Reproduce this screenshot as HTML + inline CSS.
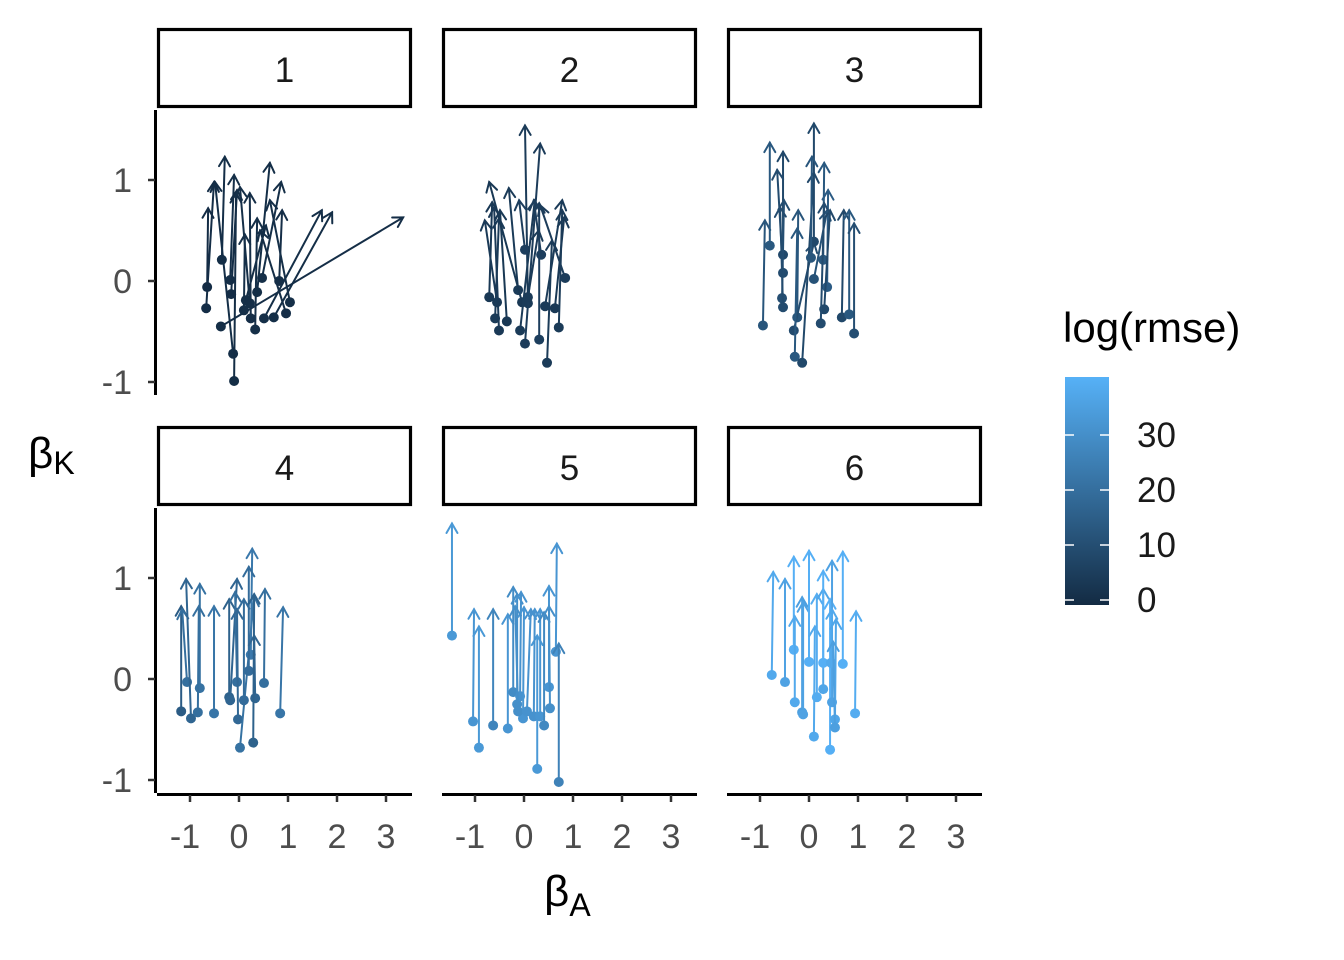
<!DOCTYPE html>
<html><head><meta charset="utf-8"><style>
html,body{margin:0;padding:0;background:#fff;}
svg{display:block;font-family:"Liberation Sans",sans-serif;}
</style></head><body>
<svg id="chart" width="1344" height="960" viewBox="0 0 1344 960" xmlns="http://www.w3.org/2000/svg">
<defs><linearGradient id="cbar" x1="0" y1="1" x2="0" y2="0"><stop offset="0" stop-color="#132B43"/><stop offset="1" stop-color="#56B1F7"/></linearGradient></defs>
<g id="panels"></g>
<text x="28" y="468" font-size="44" fill="#000">β<tspan font-size="32" dy="6">K</tspan></text>
<text x="544" y="906" font-size="44" fill="#000">β<tspan font-size="32" dy="10">A</tspan></text>
<g>
<text x="1063" y="342" font-size="42" fill="#000">log(rmse)</text>
<rect x="1065" y="377" width="44" height="228" fill="url(#cbar)"/>
<g id="cbticks"></g>
</g>
</svg>
<script>
const starts1X=[-0.65,-0.67,-0.35,-0.18,-0.16,-0.37,-0.12,-0.10,0.10,0.24,0.33,0.37,0.47,0.82,0.51,0.71,0.96,1.04,0.22,0.14];
const starts1Y=[-0.06,-0.27,0.21,0.01,-0.13,-0.45,-0.72,-0.99,-0.29,-0.37,-0.48,-0.11,0.03,0,-0.37,-0.36,-0.32,-0.21,-0.22,-0.19];
const ends1X=[-0.63,-0.51,-0.29,-0.10,-0.04,3.35,-0.49,-0.06,0.12,0.22,0.37,0.63,0.86,0.88,1.69,1.90,0.43,0.63,0.02,0.55];
const ends1Y=[0.72,0.98,1.23,1.05,0.90,0.63,0.98,0.87,0.46,0.87,0.62,1.17,0.98,0.70,0.70,0.68,0.50,0.80,0.93,0.55];
const rmse1=[-0.5,-0.3,0,0.2,-0.2,0.1,0,-0.4,0.3,0.1,0.2,0,0.3,0.1,0.2,0,0.1,0.3,0.2,0];

const starts2X=[-0.71,-0.55,-0.59,-0.35,-0.51,-0.12,-0.04,0.08,0.02,-0.08,0.02,0.31,0.35,0.47,0.43,0.63,0.71,0.84,0.08];
const starts2Y=[-0.16,-0.21,-0.37,-0.40,-0.49,-0.09,-0.21,-0.22,0.31,-0.49,-0.62,-0.58,0.26,-0.81,-0.25,-0.27,-0.46,0.03,-0.16];
const ends2X=[-0.65,-0.80,-0.51,-0.49,-0.61,-0.31,-0.71,0.02,-0.10,0.22,0.33,0.31,0.20,0.57,0.78,0.82,0.78,0.33,0.30];
const ends2Y=[0.78,0.60,0.62,0.70,0.73,0.92,0.98,1.54,0.80,0.80,1.36,0.77,0.80,0.40,0.80,0.63,0.70,0.75,0.50];
const rmse2=[3,3.5,4,3,3.5,4,3,4,5,4,4.5,5,5,4,4,3.5,4,4.5,4];

const starts3X=[-0.94,-0.80,-0.53,-0.53,-0.55,-0.53,-0.24,-0.31,-0.29,-0.14,0.10,0.04,0.10,0.29,0.37,0.31,0.24,0.67,0.82,0.92];
const starts3Y=[-0.44,0.35,0.26,0.08,-0.17,-0.26,-0.36,-0.49,-0.75,-0.81,0.39,0.23,0.02,0.21,-0.06,-0.28,-0.42,-0.36,-0.33,-0.52];
const ends3X=[-0.90,-0.80,-0.53,-0.65,-0.51,-0.59,-0.22,0.10,-0.24,0.10,0.10,0.06,0.37,0.31,0.39,0.43,0.31,0.71,0.82,0.92];
const ends3Y=[0.60,1.37,1.28,1.10,0.80,0.73,0.70,0.38,0.52,1.07,1.56,1.23,0.70,1.17,0.90,0.70,0.77,0.70,0.70,0.57];
const rmse3=[12,13,8,9,10,9,12,9,13,8,8,12,11,13,14,8,9,8,13,10];

const starts4X=[-1.18,-1.06,-0.98,-0.80,-0.84,-0.51,-0.20,-0.18,-0.04,-0.02,0.02,0.10,0.24,0.20,0.33,0.29,0.51,0.84];
const starts4Y=[-0.32,-0.03,-0.39,-0.09,-0.33,-0.34,-0.18,-0.21,-0.03,-0.40,-0.68,-0.21,0.24,0.08,-0.19,-0.63,-0.04,-0.34];
const ends4X=[-1.18,-1.16,-1.08,-0.80,-0.82,-0.51,-0.20,-0.04,-0.08,-0.04,0.31,0.10,0.27,0.20,0.31,0.31,0.53,0.90];
const ends4Y=[0.72,0.69,0.99,0.94,0.72,0.72,0.79,0.99,0.86,0.69,0.82,0.79,1.29,1.11,0.43,0.84,0.89,0.71];
const rmse4=[14,20,17,21,20,22,16,17,20,18,21,19,23,19,17,16,20,22];

const starts5X=[-1.47,-1.04,-0.92,-0.63,-0.33,-0.22,-0.14,-0.08,-0.02,-0.12,0.06,0.27,0.20,0.33,0.41,0.51,0.53,0.65,0.71];
const starts5Y=[0.43,-0.42,-0.68,-0.46,-0.49,-0.13,-0.25,-0.17,-0.39,-0.32,-0.32,-0.89,-0.37,-0.37,-0.46,-0.08,-0.29,0.27,-1.02];
const ends5X=[-1.47,-1.02,-0.92,-0.63,-0.33,-0.22,-0.14,-0.06,0,-0.18,0.14,0.27,0.22,0.33,0.41,0.51,0.51,0.67,0.71];
const ends5Y=[1.54,0.69,0.52,0.69,0.64,0.91,0.84,0.86,0.71,0.72,0.69,0.43,0.69,0.69,0.66,0.92,0.72,1.34,0.35];
const rmse5=[33,32,33,27,32,29,30,31,32,30,31,33,31,32,28,32,30,32,26];

const starts6X=[-0.76,-0.49,-0.31,-0.29,-0.14,-0.12,0,0.10,0.16,0.29,0.29,0.43,0.47,0.45,0.53,0.53,0.69,0.94];
const starts6Y=[0.04,-0.03,0.29,-0.23,-0.33,-0.35,0.17,-0.57,-0.18,-0.10,0.16,-0.70,-0.23,0.16,-0.40,-0.48,0.15,-0.34];
const ends6X=[-0.73,-0.49,-0.31,-0.29,-0.14,-0.12,0,0.12,0.16,0.29,0.29,0.43,0.47,0.47,0.55,0.49,0.69,0.96];
const ends6Y=[1.06,0.99,1.21,0.62,0.81,0.76,1.27,0.52,0.84,0.89,1.07,0.79,1.17,0.69,0.59,0.37,1.26,0.67];
const rmse6=[38,36,40,38,35,36,40,38,39,37,40,40,36,38,37,35,40,39];

const panelLabels=["1","2","3","4","5","6"];
const xTicks=[-1,0,1,2,3];
const yTicks=[-1,0,1];
const cbTicks=[0,10,20,30];

const panels=[
 [starts1X,starts1Y,ends1X,ends1Y,rmse1],[starts2X,starts2Y,ends2X,ends2Y,rmse2],[starts3X,starts3Y,ends3X,ends3Y,rmse3],
 [starts4X,starts4Y,ends4X,ends4Y,rmse4],[starts5X,starts5Y,ends5X,ends5Y,rmse5],[starts6X,starts6Y,ends6X,ends6Y,rmse6]];

const NS="http://www.w3.org/2000/svg";
const CMIN=-0.9,CMAX=40.5;
function col(v){const t=Math.max(0,Math.min(1,(v-CMIN)/(CMAX-CMIN)));
 const a=[19,43,67],b=[86,177,247];return "rgb("+a.map((c,i)=>Math.round(c+(b[i]-c)*t)).join(",")+")";}
function mk(tag,attrs,parent){const e=document.createElementNS(NS,tag);for(const k in attrs)e.setAttribute(k,attrs[k]);parent.appendChild(e);return e;}
const root=document.getElementById("panels");
const panelLeft=[157,442,727], rowTop=[108,506], PW=255;
function xScale(col_,v){return panelLeft[col_]+82+v*49;}
function yScale(row,v){return rowTop[row]+173-v*101;}

panels.forEach((p,idx)=>{
 const c=idx%3,r=Math.floor(idx/3);
 const g=mk("g",{},root);
 
 
 const strip=mk("rect",{x:panelLeft[c]+1.5,y:rowTop[r]-78.5,width:PW-3,height:77,fill:"#fff",stroke:"#000","stroke-width":3.2},g);
 
 
 const st=mk("text",{x:panelLeft[c]+PW/2,y:rowTop[r]-26,"font-size":35,"text-anchor":"middle",fill:"#1a1a1a"},g);
 st.textContent=panelLabels[idx];
 
 
 if(c===0){
  const ya=mk("line",{x1:155.5,x2:155.5,y1:rowTop[r]+2,y2:rowTop[r]+287,stroke:"#000","stroke-width":3},g);
  
  
  yTicks.forEach(t=>{const y=yScale(r,t);
   mk("line",{x1:148,x2:155,y1:y,y2:y,stroke:"#333","stroke-width":2.5},g);
   const tl=mk("text",{x:132,y:y+12,"font-size":34,"text-anchor":"end",fill:"#4d4d4d"},g);
   tl.textContent=t;
   
   });
 }
 if(r===1){
  const xa=mk("line",{x1:panelLeft[c],x2:panelLeft[c]+PW,y1:794.5,y2:794.5,stroke:"#000","stroke-width":3},g);
  
  
  xTicks.forEach(t=>{const x=xScale(c,t);
   mk("line",{x1:x,x2:x,y1:795,y2:802,stroke:"#333","stroke-width":2.5},g);
   const tl=mk("text",{x:x-(t<0?5:0),y:848,"font-size":34,"text-anchor":"middle",fill:"#4d4d4d"},g);
   tl.textContent=t;
   
   });
 }
 const [sx,sy,ex,ey,rm]=p;
 sx.forEach((_,i)=>{
  const x1=xScale(c,sx[i]),y1=yScale(r,sy[i]),x2=xScale(c,ex[i]),y2=yScale(r,ey[i]);
  const color=col(rm[i]);
  const ag=mk("g",{stroke:color,"stroke-width":2,fill:"none","stroke-linecap":"round"},g);
  
  
  mk("line",{x1:x1,y1:y1,x2:x2,y2:y2},ag);
  const ang=Math.atan2(y2-y1,x2-x1),L=11,h=Math.PI/6;
  const pa=`M${x2-L*Math.cos(ang-h)},${y2-L*Math.sin(ang-h)} L${x2},${y2} L${x2-L*Math.cos(ang+h)},${y2-L*Math.sin(ang+h)}`;
  mk("path",{d:pa},ag);
  const pt=mk("circle",{cx:x1,cy:y1,r:5,fill:color,stroke:"none"},g);
  
  
 });
});
const cbg=document.getElementById("cbticks");
cbTicks.forEach(t=>{const y=600-t*5.5;
 mk("line",{x1:1065,x2:1074,y1:y,y2:y,stroke:"#fff","stroke-width":1.5},cbg);
 mk("line",{x1:1100,x2:1109,y1:y,y2:y,stroke:"#fff","stroke-width":1.5},cbg);
 const tl=mk("text",{x:1137,y:y+12,"font-size":35,fill:"#1a1a1a"},cbg);
 tl.textContent=t;
 
 });
</script>
</body></html>
